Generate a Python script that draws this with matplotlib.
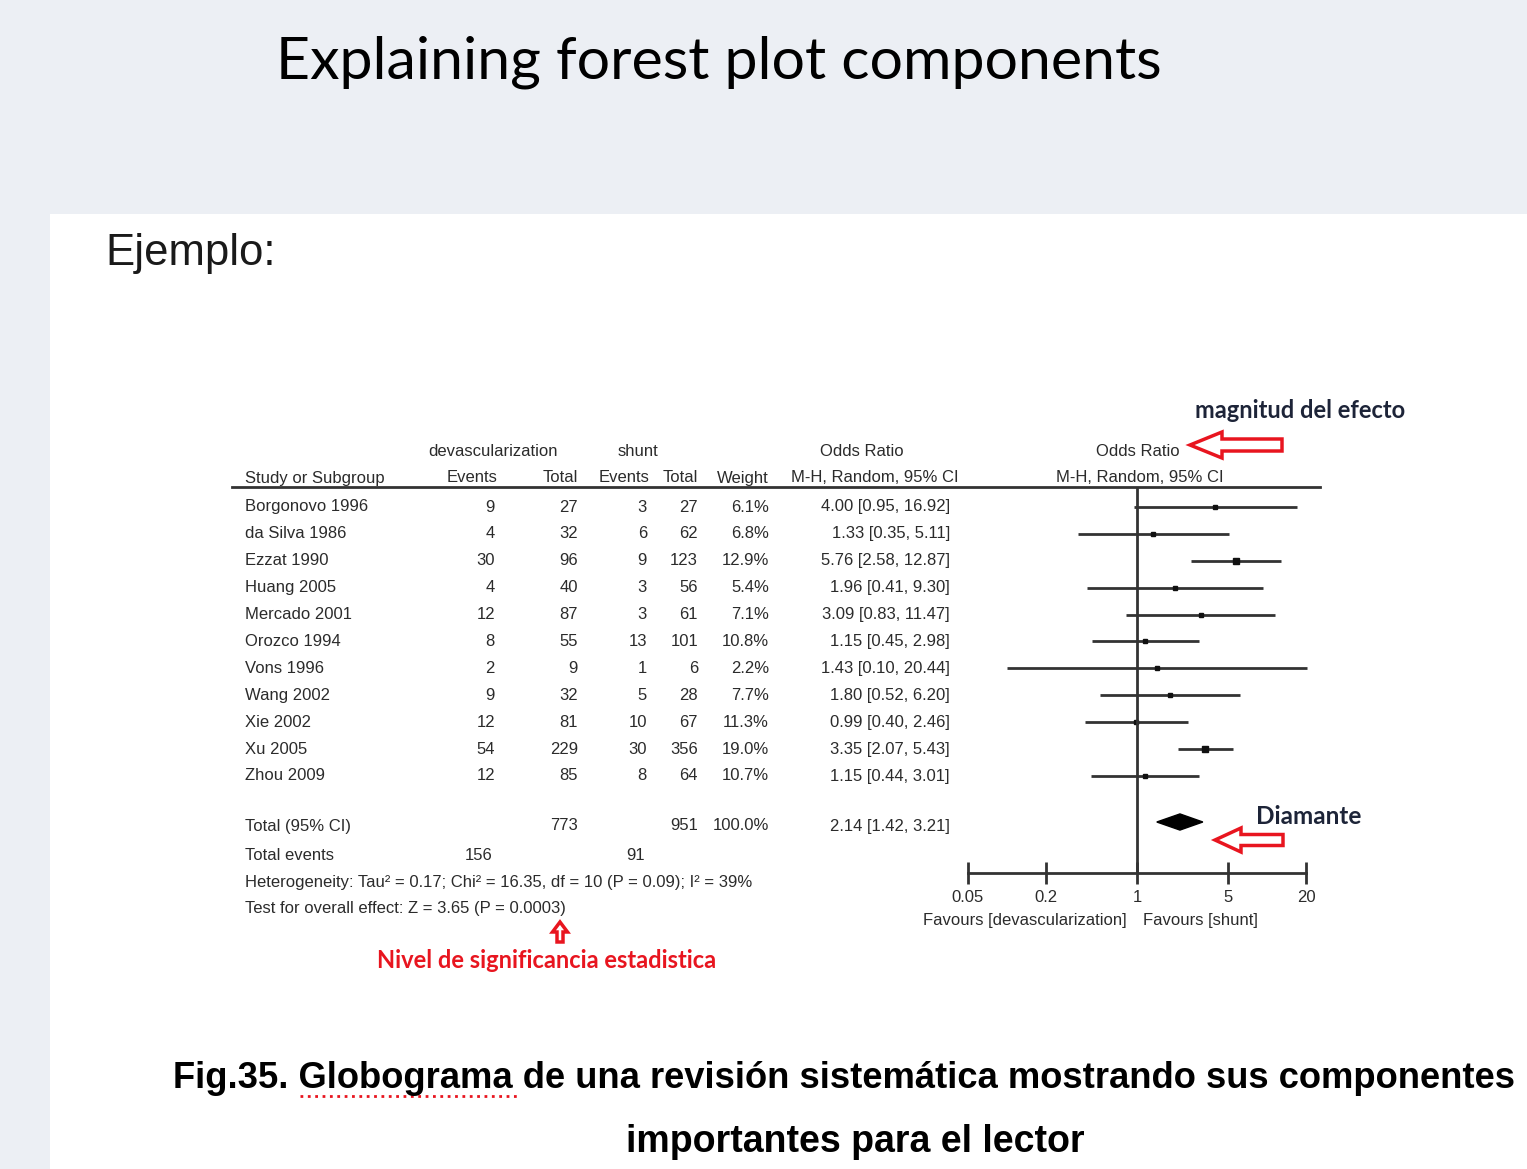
import numpy as np
import matplotlib
matplotlib.use('Agg')
import matplotlib.pyplot as plt
from matplotlib.patches import Rectangle, FancyArrow, Polygon

# ---- data ----
studies = ['Borgonovo 1996', 'da Silva 1986', 'Ezzat 1990', 'Huang 2005', 'Mercado 2001',
           'Orozco 1994', 'Vons 1996', 'Wang 2002', 'Xie 2002', 'Xu 2005', 'Zhou 2009']
dev_events = [9, 4, 30, 4, 12, 8, 2, 9, 12, 54, 12]
dev_total = [27, 32, 96, 40, 87, 55, 9, 32, 81, 229, 85]
sh_events = [3, 6, 9, 3, 3, 13, 1, 5, 10, 30, 8]
sh_total = [27, 62, 123, 56, 61, 101, 6, 28, 67, 356, 64]
weight = [6.1, 6.8, 12.9, 5.4, 7.1, 10.8, 2.2, 7.7, 11.3, 19.0, 10.7]
odds = [4.00, 1.33, 5.76, 1.96, 3.09, 1.15, 1.43, 1.80, 0.99, 3.35, 1.15]
ci_lo = [0.95, 0.35, 2.58, 0.41, 0.83, 0.45, 0.10, 0.52, 0.40, 2.07, 0.44]
ci_hi = [16.92, 5.11, 12.87, 9.30, 11.47, 2.98, 20.44, 6.20, 2.46, 5.43, 3.01]

tot_dev_events, tot_dev_total = 156, 773
tot_sh_events, tot_sh_total = 91, 951
tot_or, tot_lo, tot_hi = 2.14, 1.42, 3.21

ticks = [0.05, 0.2, 1, 5, 20]
tick_labels = ['0.05', '0.2', '1', '5', '20']

# ---- figure ----
W, H = 1527, 1169
fig = plt.figure(figsize=(W / 100, H / 100), dpi=100)
fig.patch.set_facecolor('#eceff4')
ax = fig.add_axes([0, 0, 1, 1])
ax.set_xlim(0, W)
ax.set_ylim(H, 0)
ax.axis('off')

ax.add_patch(Rectangle((50, 214), W - 50, H - 214, facecolor='white', edgecolor='none'))

ax.text(719, 62, 'Explaining forest plot components', fontsize=42.5, family='Lato',
        ha='center', va='center', color='black')
ax.text(105, 254, 'Ejemplo:', fontsize=31.5, family='Liberation Sans',
        ha='left', va='center', color='#1a1a1a')

# table layout
tc = '#2b2b2b'
fs = 12
fam = 'Liberation Sans'
y0, dy = 507, 26.9
c_name, c_de, c_dt, c_se, c_st, c_w, c_or = 245, 495, 578, 647, 698, 769, 950

ax.text(493, 452, 'devascularization', fontsize=fs, family=fam, ha='center', va='center', color=tc)
ax.text(638, 452, 'shunt', fontsize=fs, family=fam, ha='center', va='center', color=tc)
ax.text(862, 452, 'Odds Ratio', fontsize=fs, family=fam, ha='center', va='center', color=tc)
ax.text(1138, 452, 'Odds Ratio', fontsize=fs, family=fam, ha='center', va='center', color=tc)
hy = 478
ax.text(c_name, hy, 'Study or Subgroup', fontsize=fs, family=fam, ha='left', va='center', color=tc)
ax.text(c_de + 2, hy, 'Events', fontsize=fs, family=fam, ha='right', va='center', color=tc)
ax.text(c_dt, hy, 'Total', fontsize=fs, family=fam, ha='right', va='center', color=tc)
ax.text(c_se + 2, hy, 'Events', fontsize=fs, family=fam, ha='right', va='center', color=tc)
ax.text(c_st, hy, 'Total', fontsize=fs, family=fam, ha='right', va='center', color=tc)
ax.text(c_w, hy, 'Weight', fontsize=fs, family=fam, ha='right', va='center', color=tc)
ax.text(875, hy, 'M-H, Random, 95% CI', fontsize=fs, family=fam, ha='center', va='center', color=tc)
ax.text(1140, hy, 'M-H, Random, 95% CI', fontsize=fs, family=fam, ha='center', va='center', color=tc)
ax.plot([232, 1320], [487, 487], color='#333333', lw=2)

for i, s in enumerate(studies):
    y = y0 + i * dy
    ax.text(c_name, y, s, fontsize=fs, family=fam, ha='left', va='center', color=tc)
    ax.text(c_de, y, str(dev_events[i]), fontsize=fs, family=fam, ha='right', va='center', color=tc)
    ax.text(c_dt, y, str(dev_total[i]), fontsize=fs, family=fam, ha='right', va='center', color=tc)
    ax.text(c_se, y, str(sh_events[i]), fontsize=fs, family=fam, ha='right', va='center', color=tc)
    ax.text(c_st, y, str(sh_total[i]), fontsize=fs, family=fam, ha='right', va='center', color=tc)
    ax.text(c_w, y, f'{weight[i]:.1f}%', fontsize=fs, family=fam, ha='right', va='center', color=tc)
    ax.text(c_or, y, f'{odds[i]:.2f} [{ci_lo[i]:.2f}, {ci_hi[i]:.2f}]', fontsize=fs, family=fam,
            ha='right', va='center', color=tc)

yt = 826
ax.text(c_name, yt, 'Total (95% CI)', fontsize=fs, family=fam, ha='left', va='center', color=tc)
ax.text(c_dt, yt, str(tot_dev_total), fontsize=fs, family=fam, ha='right', va='center', color=tc)
ax.text(c_st, yt, str(tot_sh_total), fontsize=fs, family=fam, ha='right', va='center', color=tc)
ax.text(c_w, yt, f'{sum(weight):.1f}%', fontsize=fs, family=fam, ha='right', va='center', color=tc)
ax.text(c_or, yt, f'{tot_or:.2f} [{tot_lo:.2f}, {tot_hi:.2f}]', fontsize=fs, family=fam,
        ha='right', va='center', color=tc)
ye = 855
ax.text(c_name, ye, 'Total events', fontsize=fs, family=fam, ha='left', va='center', color=tc)
ax.text(c_de - 2, ye, str(tot_dev_events), fontsize=fs, family=fam, ha='right', va='center', color=tc)
ax.text(c_se - 2, ye, str(tot_sh_events), fontsize=fs, family=fam, ha='right', va='center', color=tc)
ax.text(c_name, 882, 'Heterogeneity: Tau² = 0.17; Chi² = 16.35, df = 10 (P = 0.09); I² = 39%',
        fontsize=fs, family=fam, ha='left', va='center', color=tc)
ax.text(c_name, 908, 'Test for overall effect: Z = 3.65 (P = 0.0003)',
        fontsize=fs, family=fam, ha='left', va='center', color=tc)

# ---- forest panel (log x) ----
x1px, ppd = 1137, 130.0
left_px, right_px = 940, 1330
top_px, bot_px = 487, 873
fx = fig.add_axes([left_px / W, 1 - bot_px / H, (right_px - left_px) / W, (bot_px - top_px) / H])
fx.patch.set_alpha(0)
fx.set_xscale('log')
fx.set_xlim(10 ** ((left_px - x1px) / ppd), 10 ** ((right_px - x1px) / ppd))
fx.set_ylim((bot_px - y0) / dy, (top_px - y0) / dy)

rows = np.arange(len(studies))
lc = '#333333'
fx.hlines(rows, ci_lo, ci_hi, color=lc, lw=2)
for i in rows:
    fx.plot(odds[i], i, marker='s', color='#111111', markersize=2 + 0.14 * weight[i], linestyle='none')
fx.axvline(1, color=lc, lw=2)

ty = (yt - 4 - y0) / dy
hh = 0.3
fx.add_patch(Polygon([[tot_lo, ty], [tot_or, ty - hh], [tot_hi, ty], [tot_or, ty + hh]],
                     closed=True, facecolor='black', edgecolor='black'))

for sp in ['top', 'right', 'left']:
    fx.spines[sp].set_visible(False)
fx.spines['bottom'].set_bounds(ticks[0], ticks[-1])
fx.spines['bottom'].set_linewidth(2)
fx.spines['bottom'].set_color(lc)
fx.set_yticks([])
fx.set_xticks(ticks)
fx.set_xticklabels(tick_labels)
fx.minorticks_off()
fx.tick_params(axis='x', direction='inout', length=16, width=2, color=lc, labelsize=fs,
               labelcolor=tc, pad=4)
for lab in fx.get_xticklabels():
    lab.set_family(fam)

ax.text(1127, 921, 'Favours [devascularization]', fontsize=fs, family=fam, ha='right', va='center', color=tc)
ax.text(1143, 921, 'Favours [shunt]', fontsize=fs, family=fam, ha='left', va='center', color=tc)

# ---- annotations ----
red = '#e8151f'
navy = '#1d2438'
ax.text(1300, 411, 'magnitud del efecto', fontsize=17, family='Lato', weight='bold',
        ha='center', va='center', color=navy)
ax.add_patch(FancyArrow(1282, 445, -92, 0, width=12, head_width=26, head_length=32,
                        length_includes_head=True, facecolor='white', edgecolor=red, lw=2.5))
ax.text(1309, 816, 'Diamante', fontsize=17.5, family='Lato', weight='bold',
        ha='center', va='center', color=navy)
ax.add_patch(FancyArrow(1283, 840, -68, 0, width=11, head_width=24, head_length=26,
                        length_includes_head=True, facecolor='white', edgecolor=red, lw=2.5))
ax.add_patch(FancyArrow(560, 942, 0, -20, width=6, head_width=15, head_length=10,
                        length_includes_head=True, facecolor='white', edgecolor=red, lw=2.5))
ax.text(547, 961, 'Nivel de significancia estadistica', fontsize=17, family='Lato', weight='bold',
        ha='center', va='center', color=red)

# ---- caption ----
cap_fam = 'Liberation Sans'
ax.text(173, 1078, 'Fig.35. Globograma de una revisión sistemática mostrando sus componentes',
        fontsize=26.2, family=cap_fam, weight='bold', ha='left', va='center', color='black')
ax.text(855, 1142, 'importantes para el lector', fontsize=27, family=cap_fam, weight='bold',
        ha='center', va='center', color='black')
ax.plot([300, 518], [1096, 1096], color=red, lw=2, linestyle=':')

fig.savefig('out.png', dpi=100, facecolor=fig.get_facecolor())
